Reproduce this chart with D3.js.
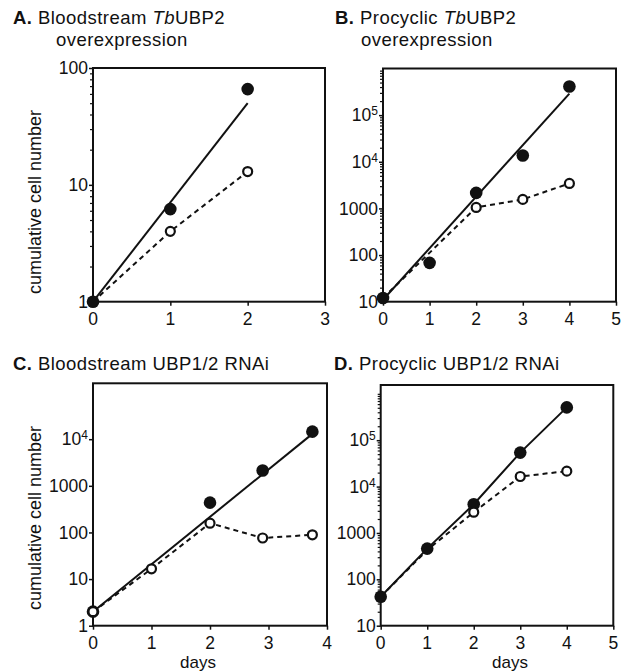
<!DOCTYPE html>
<html>
<head>
<meta charset="utf-8">
<script src="https://cdn.jsdelivr.net/npm/d3@7"></script>
<style>
  body { margin: 0; background: #fff; }
  svg { display: block; }
  text { font-family: "Liberation Sans", Arial, sans-serif; fill: #111; }
</style>
</head>
<body>
<div id="chart"></div>
<script>
// A. Bloodstream TbUBP2 overexpression
const filledDaysA = [0, 1, 2];
const filledA = [1, 6.2, 66];
const openDaysA = [0, 1, 2];
const openA = [1, 4, 13];
const openHiddenA = [0];
const fitDaysA = [0, 2];
const fitA = [1, 50];
const yTicksA = [1, 10, 100];
const xTicksA = [0, 1, 2, 3];

// B. Procyclic TbUBP2 overexpression
const filledDaysB = [0, 1, 2, 3, 4];
const filledB = [12, 68, 2150, 13600, 410000];
const openDaysB = [0, 2, 3, 4];
const openB = [12, 1050, 1560, 3430];
const openHiddenB = [0];
const fitDaysB = [0, 4];
const fitB = [11, 290000];
const yTicksB = [10, 100, 1000, 1e4, 1e5];
const xTicksB = [0, 1, 2, 3, 4, 5];

// C. Bloodstream UBP1/2 RNAi
const filledDaysC = [0, 2, 2.9, 3.75];
const filledC = [2, 436, 2130, 14500];
const openDaysC = [0, 1, 2, 2.9, 3.75];
const openC = [2, 16.6, 158, 76, 89];
const openHiddenC = [];
const fitDaysC = [0, 3.75];
const fitC = [2, 13000];
const yTicksC = [1, 10, 100, 1000, 1e4];
const xTicksC = [0, 1, 2, 3, 4];

// D. Procyclic UBP1/2 RNAi
const filledDaysD = [0, 1, 2, 3, 4];
const filledD = [42, 460, 4150, 54000, 510000];
const openDaysD = [0, 1, 2, 3, 4];
const openD = [42, 430, 2800, 16500, 21500];
const openHiddenD = [0, 1];
const yTicksD = [10, 100, 1000, 1e4, 1e5];
const xTicksD = [0, 1, 2, 3, 4, 5];

const width = 628, height = 672;
const svg = d3.select('#chart').append('svg')
    .attr('width', width)
    .attr('height', height);

const zip = (xs, ys) => xs.map((x, i) => ({ x: x, y: ys[i] }));

function title(x, y, letter, parts) {
    const t = svg.append('text')
        .attr('x', x).attr('y', y)
        .style('font-size', '18.5px')
        .style('letter-spacing', '0.45px');
    t.append('tspan').style('font-weight', 'bold').text(letter);
    parts.forEach(p => {
        t.append('tspan').style('font-style', p.italic ? 'italic' : 'normal').text(p.text);
    });
}

function tickLabel(g, v, x, y) {
    const exp = Math.round(Math.log10(v));
    const t = g.append('text')
        .attr('x', x).attr('y', y)
        .attr('dy', '0.35em')
        .attr('text-anchor', 'end')
        .style('font-size', '17.5px');
    if (exp >= 4) {
        t.append('tspan').text('10');
        t.append('tspan').attr('dy', '-0.5em').style('font-size', '12px').text(exp);
    } else {
        t.text(String(v));
    }
}

function drawPanel(p) {
    const x = d3.scaleLinear().domain(p.xDomain).range(p.xRange);
    const y = d3.scaleLog().domain(p.yDomain).range(p.yRange);
    const g = svg.append('g');

    // minor log ticks
    if (p.minor) {
        const minor = y.ticks().filter(v => !p.yTicks.includes(v) && v < p.yDomain[1]);
        g.append('g')
            .attr('transform', `translate(${p.xRange[0]},0)`)
            .call(d3.axisLeft(y).tickValues(minor).tickSize(3).tickFormat(''))
            .call(a => a.select('.domain').remove())
            .selectAll('line').attr('stroke', '#111').attr('stroke-width', 1.2);
    }
    g.append('g')
        .attr('transform', `translate(${p.xRange[0]},0)`)
        .call(d3.axisLeft(y).tickValues(p.yTicks).tickSize(4).tickFormat(''))
        .call(a => a.select('.domain').remove())
        .selectAll('line').attr('stroke', '#111').attr('stroke-width', 1.5);
    p.yTicks.forEach(v => tickLabel(g, v, p.xRange[0] - 5, y(v)));

    g.append('g')
        .attr('transform', `translate(0,${p.yRange[0]})`)
        .call(d3.axisBottom(x).tickValues(p.xTicks).tickSize(4).tickFormat(''))
        .call(a => a.select('.domain').remove())
        .selectAll('line').attr('stroke', '#111').attr('stroke-width', 1.5);
    p.xTicks.forEach(v => {
        g.append('text')
            .attr('x', x(v)).attr('y', p.yRange[0] + p.xLabelGap)
            .attr('text-anchor', 'middle')
            .style('font-size', '17.5px')
            .text(v);
    });

    // frame
    g.append('rect')
        .attr('x', p.xRange[0]).attr('y', p.yRange[1])
        .attr('width', p.xRange[1] - p.xRange[0])
        .attr('height', p.yRange[0] - p.yRange[1])
        .attr('fill', 'none')
        .attr('stroke', '#111')
        .attr('stroke-width', 2);

    const line = d3.line().x(d => x(d.x)).y(d => y(d.y));

    g.append('path')
        .datum(p.open)
        .attr('d', line)
        .attr('fill', 'none')
        .attr('stroke', '#111')
        .attr('stroke-width', 2)
        .attr('stroke-dasharray', '5,4');

    g.append('path')
        .datum(p.fit)
        .attr('d', line)
        .attr('fill', 'none')
        .attr('stroke', '#111')
        .attr('stroke-width', 2);

    g.selectAll('.filled')
        .data(p.filled)
        .enter().append('circle')
        .attr('class', 'filled')
        .attr('cx', d => x(d.x))
        .attr('cy', d => y(d.y))
        .attr('r', 6.3)
        .attr('fill', '#111');

    g.selectAll('.open')
        .data(p.open.filter(d => !p.openHidden.includes(d.x)))
        .enter().append('circle')
        .attr('class', 'open')
        .attr('cx', d => x(d.x))
        .attr('cy', d => y(d.y))
        .attr('r', 4.5)
        .attr('fill', '#fff')
        .attr('stroke', '#111')
        .attr('stroke-width', 2.2);
}

drawPanel({
    xDomain: [0, 3], xRange: [93, 325],
    yDomain: [1, 100], yRange: [301.7, 68],
    yTicks: yTicksA, xTicks: xTicksA, minor: true, xLabelGap: 23,
    filled: zip(filledDaysA, filledA), open: zip(openDaysA, openA),
    openHidden: openHiddenA, fit: zip(fitDaysA, fitA)
});
drawPanel({
    xDomain: [0, 5], xRange: [383, 616],
    yDomain: [10, 1e6], yRange: [301.7, 68.5],
    yTicks: yTicksB, xTicks: xTicksB, minor: true, xLabelGap: 23,
    filled: zip(filledDaysB, filledB), open: zip(openDaysB, openB),
    openHidden: openHiddenB, fit: zip(fitDaysB, fitB)
});
drawPanel({
    xDomain: [0, 4], xRange: [93, 327],
    yDomain: [1, 1.58e5], yRange: [625.7, 383.3],
    yTicks: yTicksC, xTicks: xTicksC, minor: false, xLabelGap: 23.5,
    filled: zip(filledDaysC, filledC), open: zip(openDaysC, openC),
    openHidden: openHiddenC, fit: zip(fitDaysC, fitC)
});
drawPanel({
    xDomain: [0, 5], xRange: [380.7, 613.3],
    yDomain: [10, 1.55e6], yRange: [625.7, 385],
    yTicks: yTicksD, xTicks: xTicksD, minor: true, xLabelGap: 23.5,
    filled: zip(filledDaysD, filledD), open: zip(openDaysD, openD),
    openHidden: openHiddenD, fit: zip(filledDaysD, filledD)
});

// panel titles
title(13, 24, 'A.', [{ text: ' Bloodstream ' }, { text: 'Tb', italic: true }, { text: 'UBP2' }]);
svg.append('text').attr('x', 56).attr('y', 46).style('font-size', '18.5px')
    .style('letter-spacing', '0.45px').text('overexpression');
title(335, 24, 'B.', [{ text: ' Procyclic ' }, { text: 'Tb', italic: true }, { text: 'UBP2' }]);
svg.append('text').attr('x', 361).attr('y', 46).style('font-size', '18.5px')
    .style('letter-spacing', '0.45px').text('overexpression');
title(13, 370, 'C.', [{ text: ' Bloodstream UBP1/2 RNAi' }]);
title(334, 370, 'D.', [{ text: ' Procyclic UBP1/2 RNAi' }]);

// axis titles
[202, 518].forEach(cy => {
    svg.append('text')
        .attr('transform', `translate(41,${cy}) rotate(-90)`)
        .attr('text-anchor', 'middle')
        .style('font-size', '18px')
        .text('cumulative cell number');
});
[198, 510].forEach(cx => {
    svg.append('text')
        .attr('x', cx).attr('y', 668)
        .attr('text-anchor', 'middle')
        .style('font-size', '17px')
        .text('days');
});
</script>
</body>
</html>
